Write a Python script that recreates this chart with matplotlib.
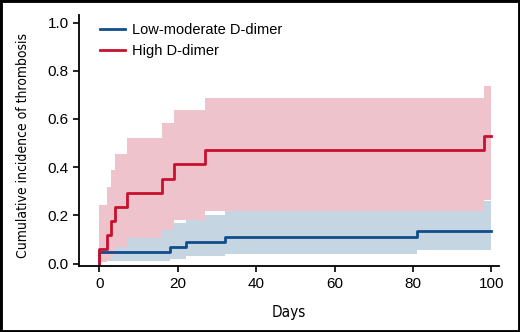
import numpy as np
import matplotlib
matplotlib.use('Agg')
import matplotlib.pyplot as plt
import matplotlib.patches as patches
from matplotlib import font_manager

plt.rcParams['font.family'] = ['Liberation Sans', 'DejaVu Sans']

# cumulative incidence
# high D-dimer
red_t  = [0, 0, 2, 3, 4, 7, 16, 19, 27, 98, 100]
red_y  = [0, 0.059, 0.118, 0.176, 0.235, 0.294, 0.353, 0.412, 0.471, 0.529, 0.529]
red_lo = [0.008, 0.008, 0.015, 0.035, 0.070, 0.105, 0.140, 0.181, 0.219, 0.265, 0.265]
red_hi = [0.242, 0.242, 0.317, 0.389, 0.455, 0.522, 0.584, 0.638, 0.689, 0.737, 0.737]

# low-moderate D-dimer
blue_t  = [0, 0, 18, 22, 32, 81, 100]
blue_y  = [0, 0.047, 0.070, 0.089, 0.112, 0.137, 0.137]
blue_lo = [0.012, 0.012, 0.019, 0.032, 0.041, 0.058, 0.058]
blue_hi = [0.150, 0.150, 0.169, 0.202, 0.225, 0.258, 0.258]

labels = ['Low-moderate D-dimer', 'High D-dimer']
xticks = [0, 20, 40, 60, 80, 100]
yticks = [0.0, 0.2, 0.4, 0.6, 0.8, 1.0]

red = '#C8102E'
blue = '#104E8B'
pink_band = '#EEC3CB'
blue_band = '#C5D5E1'

fig = plt.figure(figsize=(5.2, 3.32), dpi=100)
ax = fig.add_axes([0.152, 0.198, 0.808, 0.758])

ax.fill_between(blue_t, blue_lo, blue_hi, step='post', color=blue_band, lw=0)
ax.fill_between(red_t, red_lo, red_hi, step='post', color=pink_band, lw=0)
ax.step(blue_t, blue_y, where='post', color=blue, lw=2.0, label=labels[0])
ax.step(red_t, red_y, where='post', color=red, lw=2.0, label=labels[1])

ax.set_xlim(-5.2, 102)
ax.set_ylim(-0.011, 1.033)
ax.set_xticks(xticks)
ax.set_yticks(yticks)
ax.set_yticklabels(['%.1f' % v for v in yticks])
ax.tick_params(labelsize=11, length=4, width=1.2, colors='black')
for s in ['top', 'right']:
    ax.spines[s].set_visible(False)
for s in ['left', 'bottom']:
    ax.spines[s].set_linewidth(1.3)

# condensed face for the axis titles
cond = font_manager.FontProperties(family='DejaVu Sans', stretch='condensed', size=10)
cond_x = font_manager.FontProperties(family='DejaVu Sans', stretch='condensed', size=11)

ax.set_xlabel('Days', fontproperties=cond_x, labelpad=10)
ax.set_ylabel('Cumulative incidence of thrombosis', fontproperties=cond)
ax.yaxis.set_label_coords(-0.116, 0.48)

ax.legend(loc='upper left', bbox_to_anchor=(0.05, 0.966), frameon=False,
          fontsize=10.5, handlelength=1.7, handletextpad=0.5, labelspacing=0.45,
          borderpad=0, borderaxespad=0)

fig.add_artist(patches.Rectangle((0, 0), 1, 1, transform=fig.transFigure,
                                 fill=False, ec='black', lw=3.5))

plt.savefig('out.png', dpi=100)
